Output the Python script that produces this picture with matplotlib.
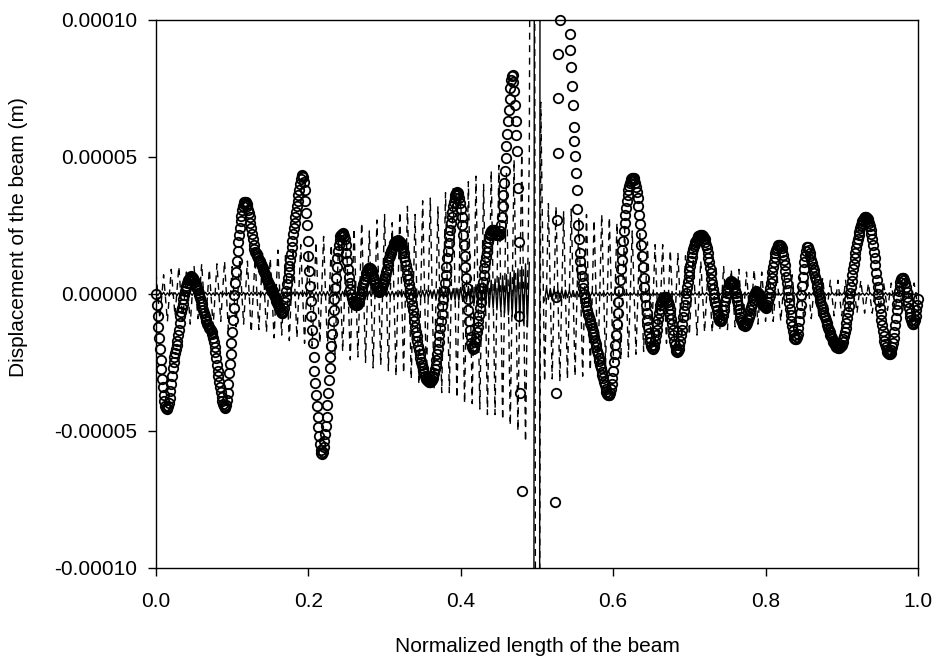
import matplotlib
matplotlib.use('Agg')
import matplotlib.pyplot as plt
import numpy as np
from matplotlib.ticker import FuncFormatter

plt.rcParams['font.family'] = ['Liberation Sans', 'DejaVu Sans']

nan = np.nan

# all displacements in units of 1e-5 m
# circles at x = 0, 0.002, ..., 1.0
circle_y_even = [
    0.0, -0.8, -1.6, -2.4, -3.1, -3.7, -4.1, -4.2, -4.1, -3.8,
    -3.3, -2.7, -2.3, -2.0, -1.7, -1.3, -0.8, -0.5, -0.2, 0.1,
    0.3, 0.5, 0.6, 0.65, 0.6, 0.5, 0.35, 0.2, 0.05, -0.15,
    -0.35, -0.6, -0.8, -1.0, -1.15, -1.25, -1.3, -1.45, -1.75, -2.1,
    -2.6, -3.0, -3.4, -3.75, -4.0, -4.15, -4.05, -3.6, -2.9, -2.2,
    -1.4, -0.5, 0.4, 1.2, 1.9, 2.4, 2.85, 3.2, 3.35, 3.35,
    3.2, 2.95, 2.6, 2.2, 1.8, 1.55, 1.45, 1.3, 1.2, 1.1,
    0.95, 0.8, 0.65, 0.5, 0.35, 0.25, 0.15, 0.05, -0.1, -0.25,
    -0.4, -0.5, -0.65, -0.7, -0.5, -0.1, 0.35, 0.8, 1.25, 1.7,
    2.2, 2.6, 3.0, 3.4, 3.8, 4.2, 4.35, 4.1, 3.4, 2.5,
    1.4, 0.3, -0.8, -1.8, -2.8, -3.7, -4.5, -5.2, -5.7, -5.85,
    -5.6, -5.1, -4.5, -3.6, -2.7, -1.9, -1.0, -0.2, 0.6, 1.3,
    1.8, 2.1, 2.2, 2.2, 2.0, 1.5, 0.9, 0.4, 0.0, -0.25,
    -0.35, -0.4, -0.4, -0.3, -0.1, 0.1, 0.35, 0.55, 0.75, 0.9,
    0.95, 0.9, 0.75, 0.55, 0.35, 0.2, 0.1, 0.1, 0.2, 0.35,
    0.55, 0.8, 1.05, 1.3, 1.5, 1.65, 1.8, 1.9, 1.95, 1.95,
    1.9, 1.8, 1.6, 1.35, 1.05, 0.7, 0.35, 0.0, -0.4, -0.8,
    -1.2, -1.55, -1.9, -2.2, -2.5, -2.7, -2.9, -3.05, -3.15, -3.2,
    -3.2, -3.15, -3.0, -2.75, -2.4, -2.0, -1.5, -1.0, -0.45, 0.1,
    0.7, 1.3, 1.85, 2.35, 2.8, 3.2, 3.5, 3.7, 3.7, 3.5,
    3.1, 2.5, 1.8, 1.0, 0.2, -0.6, -1.3, -1.8, -2.0, -1.9,
    -1.6, -1.2, -0.75, -0.3, 0.2, 0.7, 1.15, 1.55, 1.9, 2.15,
    2.3, 2.35, 2.3, 2.2, 2.15, 2.15, 2.3, 2.8, 3.6, 4.5,
    5.4, 6.3, 7.1, 7.8, 8.0, 7.4, 6.3, 5.2, 1.9, -3.6,
    -7.2, nan, nan, nan, nan, nan, nan, nan, nan, nan,
    nan, nan, nan, nan, nan, nan, nan, nan, nan, nan,
    nan, nan, -7.6, 2.7, nan, 10.0, nan, nan, nan, nan,
    nan, nan, 8.9, 7.6, 6.1, 5.05, 3.8, 2.5, 1.5, 0.9,
    0.4, 0.0, -0.3, -0.6, -0.85, -1.05, -1.25, -1.45, -1.7, -1.95,
    -2.2, -2.45, -2.7, -2.95, -3.2, -3.45, -3.65, -3.7, -3.6, -3.3,
    -2.8, -2.2, -1.5, -0.7, 0.1, 0.9, 1.6, 2.3, 2.9, 3.4,
    3.8, 4.05, 4.2, 4.25, 4.15, 3.9, 3.5, 2.9, 2.2, 1.4,
    0.6, -0.1, -0.7, -1.2, -1.6, -1.9, -2.0, -1.85, -1.5, -1.1,
    -0.7, -0.4, -0.25, -0.15, -0.1, -0.15, -0.3, -0.55, -0.9, -1.3,
    -1.7, -2.0, -2.1, -2.0, -1.7, -1.3, -0.85, -0.4, 0.05, 0.45,
    0.85, 1.2, 1.5, 1.75, 1.9, 2.0, 2.1, 2.15, 2.15, 2.1,
    2.0, 1.8, 1.5, 1.15, 0.75, 0.35, 0.0, -0.3, -0.6, -0.85,
    -1.0, -0.95, -0.75, -0.45, -0.1, 0.15, 0.35, 0.45, 0.45, 0.35,
    0.15, -0.1, -0.4, -0.7, -0.95, -1.1, -1.15, -1.15, -1.05, -0.85,
    -0.6, -0.35, -0.1, 0.05, 0.1, 0.05, -0.05, -0.2, -0.35, -0.45,
    -0.5, -0.4, -0.15, 0.2, 0.6, 1.0, 1.35, 1.6, 1.75, 1.8,
    1.75, 1.55, 1.25, 0.85, 0.4, -0.1, -0.55, -1.0, -1.35, -1.6,
    -1.65, -1.45, -1.0, -0.4, 0.3, 0.9, 1.4, 1.7, 1.7, 1.5,
    1.25, 1.0, 0.75, 0.5, 0.25, 0.0, -0.25, -0.45, -0.65, -0.85,
    -1.05, -1.25, -1.4, -1.55, -1.7, -1.8, -1.9, -1.95, -1.95, -1.95,
    -1.85, -1.65, -1.4, -1.05, -0.65, -0.2, 0.25, 0.7, 1.1, 1.5,
    1.85, 2.15, 2.4, 2.6, 2.7, 2.8, 2.8, 2.75, 2.6, 2.35,
    2.0, 1.55, 1.05, 0.5, 0.0, -0.5, -0.95, -1.35, -1.7, -1.95,
    -2.1, -2.2, -2.15, -1.95, -1.6, -1.15, -0.6, -0.1, 0.3, 0.55,
    0.6, 0.5, 0.25, -0.1, -0.5, -0.85, -1.05, -1.1, -0.95, -0.6,
    -0.2,
]

# circles at x = 0.001, 0.003, ..., 0.999
circle_y_odd = [
    -0.4, -1.2, -2.0, -2.75, -3.4, -3.9, -4.17, -4.17, -3.97, -3.55,
    -3.0, -2.5, -2.15, -1.85, -1.5, -1.05, -0.65, -0.35, -0.05, 0.2,
    0.4, 0.56, 0.63, 0.63, 0.56, 0.43, 0.28, 0.13, -0.05, -0.25,
    -0.48, -0.7, -0.9, -1.08, -1.2, -1.28, -1.37, -1.6, -1.92, -2.35,
    -2.8, -3.2, -3.58, -3.9, -4.1, -4.13, -3.87, -3.27, -2.55, -1.8,
    -0.95, -0.05, 0.8, 1.57, 2.17, 2.65, 3.05, 3.3, 3.37, 3.3,
    3.08, 2.8, 2.4, 2.0, 1.65, 1.5, 1.37, 1.25, 1.15, 1.03,
    0.87, 0.72, 0.57, 0.42, 0.3, 0.2, 0.1, -0.02, -0.17, -0.32,
    -0.45, -0.58, -0.7, -0.62, -0.3, 0.12, 0.57, 1.02, 1.47, 1.95,
    2.4, 2.8, 3.2, 3.6, 4.0, 4.3, 4.28, 3.8, 2.97, 1.95,
    0.85, -0.25, -1.3, -2.3, -3.25, -4.1, -4.85, -5.47, -5.82, -5.77,
    -5.37, -4.82, -4.05, -3.15, -2.3, -1.45, -0.6, 0.2, 0.97, 1.57,
    1.97, 2.17, 2.22, 2.12, 1.77, 1.2, 0.63, 0.18, -0.14, -0.31,
    -0.38, -0.41, -0.36, -0.2, 0.0, 0.22, 0.45, 0.65, 0.83, 0.94,
    0.94, 0.83, 0.65, 0.45, 0.27, 0.14, 0.09, 0.14, 0.27, 0.45,
    0.67, 0.92, 1.18, 1.4, 1.58, 1.73, 1.86, 1.93, 1.96, 1.93,
    1.86, 1.71, 1.48, 1.2, 0.88, 0.53, 0.17, -0.2, -0.6, -1.0,
    -1.38, -1.73, -2.05, -2.35, -2.6, -2.8, -2.98, -3.1, -3.18, -3.21,
    -3.18, -3.08, -2.88, -2.58, -2.2, -1.75, -1.25, -0.72, -0.17, 0.4,
    1.0, 1.58, 2.1, 2.58, 3.0, 3.37, 3.62, 3.73, 3.62, 3.32,
    2.82, 2.15, 1.4, 0.6, -0.2, -0.97, -1.57, -1.93, -1.98, -1.77,
    -1.4, -0.98, -0.52, -0.05, 0.45, 0.93, 1.35, 1.73, 2.03, 2.24,
    2.33, 2.33, 2.25, 2.17, 2.14, 2.2, 2.5, 3.2, 4.05, 4.95,
    5.85, 6.72, 7.5, 7.95, 7.75, 6.9, 5.8, 3.85, -0.8, nan,
    nan, nan, nan, nan, nan, nan, nan, nan, nan, nan,
    nan, nan, nan, nan, nan, nan, nan, nan, nan, nan,
    nan, nan, -3.6, 5.15, nan, nan, nan, nan, nan, nan,
    nan, 9.5, 8.3, 6.9, 5.6, 4.4, 3.1, 2.0, 1.2, 0.65,
    0.2, -0.15, -0.45, -0.72, -0.95, -1.15, -1.35, -1.58, -1.83, -2.08,
    -2.33, -2.58, -2.83, -3.08, -3.33, -3.56, -3.7, -3.67, -3.47, -3.07,
    -2.5, -1.85, -1.1, -0.3, 0.5, 1.25, 1.95, 2.6, 3.15, 3.6,
    3.94, 4.14, 4.24, 4.22, 4.04, 3.72, 3.22, 2.56, 1.8, 1.0,
    0.24, -0.4, -0.96, -1.41, -1.77, -1.97, -1.95, -1.7, -1.3, -0.9,
    -0.54, -0.31, -0.19, -0.12, -0.11, -0.21, -0.42, -0.72, -1.1, -1.5,
    -1.87, -2.07, -2.07, -1.87, -1.51, -1.08, -0.62, -0.17, 0.26, 0.65,
    1.03, 1.36, 1.63, 1.83, 1.95, 2.05, 2.13, 2.16, 2.13, 2.06,
    1.91, 1.66, 1.33, 0.95, 0.55, 0.17, -0.15, -0.45, -0.73, -0.94,
    -0.99, -0.86, -0.6, -0.27, 0.03, 0.26, 0.41, 0.46, 0.41, 0.26,
    0.03, -0.25, -0.55, -0.83, -1.03, -1.13, -1.16, -1.11, -0.96, -0.73,
    -0.47, -0.22, -0.02, 0.08, 0.08, 0.0, -0.12, -0.28, -0.41, -0.48,
    -0.47, -0.29, 0.02, 0.4, 0.8, 1.18, 1.49, 1.68, 1.78, 1.79,
    1.66, 1.41, 1.06, 0.63, 0.15, -0.33, -0.78, -1.18, -1.49, -1.64,
    -1.57, -1.24, -0.7, -0.05, 0.61, 1.17, 1.58, 1.73, 1.62, 1.38,
    1.12, 0.87, 0.62, 0.37, 0.12, -0.13, -0.35, -0.55, -0.75, -0.95,
    -1.15, -1.33, -1.48, -1.62, -1.76, -1.86, -1.93, -1.96, -1.96, -1.91,
    -1.76, -1.53, -1.23, -0.86, -0.43, 0.03, 0.48, 0.9, 1.3, 1.68,
    2.0, 2.28, 2.5, 2.66, 2.76, 2.81, 2.78, 2.68, 2.48, 2.18,
    1.78, 1.3, 0.78, 0.25, -0.25, -0.73, -1.15, -1.53, -1.83, -2.03,
    -2.16, -2.19, -2.06, -1.79, -1.38, -0.88, -0.35, 0.11, 0.44, 0.59,
    0.57, 0.39, 0.08, -0.3, -0.68, -0.96, -1.09, -1.04, -0.79, -0.4,
]

# stray circles next to the mid-span singularity
circle_x_mid = [0.5255, 0.5272, 0.5275]
circle_y_mid = [-0.1, 7.15, 8.76]

# dashed series at x = 0, 0.005, ..., 1.0
dashed_y = [
    0.8, -0.9, 0.7, -1.0, 0.9, -0.8, 1.0, -1.0, 0.8, -1.1,
    1.0, -0.9, 1.1, -1.1, 0.9, -1.2, 1.1, -1.0, 1.2, -1.3,
    1.0, -1.2, 1.3, -1.1, 1.2, -1.4, 1.3, -1.3, 1.5, -1.4,
    1.3, -1.6, 1.6, -1.5, 1.4, -1.7, 1.7, -1.6, 1.8, -1.8,
    1.6, -1.9, 1.9, -1.8, 2.1, -2.0, 1.8, -2.2, 2.2, -2.1,
    2.0, -2.4, 2.4, -2.3, 2.6, -2.5, 2.3, -2.7, 2.7, -2.6,
    2.9, -2.8, 2.6, -3.0, 3.0, -2.9, 3.2, -3.1, 2.9, -3.3,
    3.4, -3.2, 3.5, -3.5, 3.2, -3.6, 3.7, -3.6, 3.9, -3.8,
    3.6, -4.0, 4.1, -4.0, 4.3, -4.2, 4.0, -4.4, 4.5, -4.4,
    4.7, -4.6, 4.4, -4.8, 4.9, -5.0, 5.1, -5.4, 5.2, 60.0,
    -60.0, 7.0, -3.2, 3.3, -3.1, 3.2, -3.2, 3.0, -3.1, 3.1,
    -3.0, 2.8, -3.0, 2.9, -2.8, 2.7, -2.7, 2.9, -2.6, 2.8,
    -2.5, 2.6, -2.4, 2.4, -2.3, 2.3, -2.2, 2.2, -2.1, 1.9,
    -2.0, 1.8, -1.9, 1.8, -1.8, 1.6, -1.7, 1.5, -1.6, 1.4,
    -1.5, 1.3, -1.5, 1.2, -1.4, 1.1, -1.4, 1.0, -1.3, 1.0,
    -1.3, 0.9, -1.2, 0.9, -1.2, 0.8, -1.1, 0.9, -1.1, 0.8,
    -1.0, 0.8, -1.0, 0.7, -1.0, 0.7, -0.9, 0.7, -0.9, 0.6,
    -0.9, 0.6, -0.9, 0.6, -0.8, 0.6, -0.8, 0.5, -0.8, 0.5,
    -0.8, 0.5, -0.7, 0.5, -0.7, 0.5, -0.7, 0.4, -0.7, 0.4,
    -0.6, 0.4, -0.6, 0.4, -0.6, 0.4, -0.6, 0.4, -0.5, 0.4,
    -0.5,
]

# solid series at x = 0, 0.0025, ..., 1.0
solid_y = [
    0.04, -0.05, 0.05, -0.04, 0.06, -0.05, 0.04, -0.05,
    0.05, -0.04, 0.05, -0.06, 0.04, -0.05, 0.05, -0.04,
    0.06, -0.05, 0.04, -0.05, 0.05, -0.06, 0.05, -0.04,
    0.05, -0.05, 0.06, -0.04, 0.05, -0.05, 0.04, -0.06,
    0.05, -0.05, 0.06, -0.05, 0.04, -0.06, 0.05, -0.05,
    0.06, -0.05, 0.05, -0.06, 0.05, -0.05, 0.06, -0.05,
    0.05, -0.06, 0.06, -0.05, 0.06, -0.06, 0.05, -0.06,
    0.06, -0.06, 0.07, -0.05, 0.06, -0.06, 0.07, -0.06,
    0.06, -0.07, 0.06, -0.07, 0.07, -0.06, 0.07, -0.07,
    0.07, -0.07, 0.08, -0.06, 0.07, -0.08, 0.07, -0.07,
    0.08, -0.07, 0.08, -0.08, 0.07, -0.08, 0.08, -0.08,
    0.08, -0.08, 0.09, -0.08, 0.08, -0.09, 0.08, -0.09,
    0.09, -0.08, 0.09, -0.09, 0.09, -0.09, 0.08, -0.09,
    0.09, -0.09, 0.1, -0.09, 0.09, -0.1, 0.09, -0.1,
    0.1, -0.09, 0.1, -0.1, 0.09, -0.1, 0.1, -0.1,
    0.08, -0.1, 0.09, -0.08, 0.1, -0.09, 0.08, -0.1,
    0.1, -0.11, 0.09, -0.12, 0.11, -0.1, 0.12, -0.11,
    0.12, -0.13, 0.11, -0.14, 0.13, -0.12, 0.14, -0.13,
    0.14, -0.16, 0.15, -0.17, 0.16, -0.15, 0.18, -0.17,
    0.18, -0.2, 0.19, -0.21, 0.2, -0.22, 0.21, -0.23,
    0.24, -0.25, 0.26, -0.28, 0.27, -0.3, 0.31, -0.33,
    0.34, -0.36, 0.37, -0.4, 0.41, -0.44, 0.45, -0.48,
    0.5, -0.52, 0.55, -0.58, 0.6, -0.63, 0.66, -0.7,
    0.7, -0.76, 0.78, -0.82, 0.85, -0.9, 0.92, -0.98,
    1.0, -1.08, 1.1, -1.2, 1.15, nan, -60.0, 60.0,
    nan, -60.0, 60.0, nan, -0.25, 0.22, -0.2, 0.2,
    -0.18, 0.18, -0.17, 0.16, -0.16, 0.15, -0.15, 0.14,
    -0.13, 0.13, -0.12, 0.12, -0.11, 0.1, -0.1, 0.1,
    -0.09, 0.09, -0.08, 0.08, -0.08, 0.07, -0.07, 0.07,
    -0.06, 0.07, -0.06, 0.06, -0.06, 0.06, -0.05, 0.06,
    -0.05, 0.06, -0.05, 0.05, -0.06, 0.05, -0.05, 0.05,
    -0.05, 0.05, -0.04, 0.05, -0.05, 0.04, -0.05, 0.05,
    -0.04, 0.05, -0.05, 0.04, -0.05, 0.05, -0.04, 0.05,
    -0.05, 0.04, -0.05, 0.05, -0.04, 0.05, -0.05, 0.04,
    -0.04, 0.05, -0.05, 0.04, -0.05, 0.04, -0.04, 0.05,
    -0.05, 0.04, -0.04, 0.05, -0.04, 0.05, -0.05, 0.04,
    -0.04, 0.05, -0.04, 0.04, -0.05, 0.04, -0.04, 0.05,
    -0.04, 0.04, -0.05, 0.04, -0.04, 0.05, -0.04, 0.04,
    -0.05, 0.04, -0.04, 0.04, -0.05, 0.04, -0.04, 0.05,
    -0.04, 0.04, -0.04, 0.05, -0.04, 0.04, -0.05, 0.04,
    -0.04, 0.05, -0.04, 0.04, -0.04, 0.05, -0.04, 0.04,
    -0.05, 0.04, -0.04, 0.04, -0.05, 0.04, -0.04, 0.05,
    -0.04, 0.04, -0.05, 0.04, -0.04, 0.04, -0.05, 0.04,
    -0.04, 0.05, -0.04, 0.04, -0.04, 0.05, -0.04, 0.04,
    -0.05, 0.04, -0.04, 0.05, -0.04, 0.04, -0.04, 0.05,
    -0.04, 0.04, -0.05, 0.04, -0.04, 0.04, -0.05, 0.04,
    -0.04, 0.05, -0.04, 0.04, -0.05, 0.04, -0.04, 0.04,
    -0.05, 0.04, -0.04, 0.05, -0.04, 0.04, -0.04, 0.05,
    -0.04, 0.04, -0.05, 0.04, -0.04, 0.05, -0.04, 0.04,
    -0.04, 0.05, -0.04, 0.04, -0.05, 0.04, -0.04, 0.04,
    0.0,
]

x_ticks = [0.0, 0.2, 0.4, 0.6, 0.8, 1.0]
y_ticks = [-0.0001, -0.00005, 0.0, 0.00005, 0.0001]

unit = 1e-5

# merge the two circle grids into one 0.001-step series
circle_y = np.empty(len(circle_y_even) + len(circle_y_odd))
circle_y[0::2] = circle_y_even
circle_y[1::2] = circle_y_odd
circle_y = circle_y * unit
circle_x = np.linspace(0, 1, len(circle_y))
circle_y_mid = np.array(circle_y_mid, dtype=float) * unit
dashed_y = np.array(dashed_y, dtype=float) * unit
dashed_x = np.linspace(0, 1, len(dashed_y))
solid_y = np.array(solid_y, dtype=float) * unit
solid_x = np.linspace(0, 1, len(solid_y))

fig = plt.figure(figsize=(9.34, 6.57), dpi=100, facecolor='white')
ax = fig.add_axes([0.167, 0.1355, 0.8158, 0.8341])

ax.plot(dashed_x, dashed_y, color='black', lw=1.0,
        linestyle=(0, (5, 4)))
ax.plot(solid_x, solid_y, color='black', lw=1.0)
marker_style = dict(ls='none', marker='o', ms=6.8, mfc='none', mec='black',
                    mew=1.3, clip_on=False)
ax.plot(circle_x, circle_y, **marker_style)
ax.plot(circle_x_mid, circle_y_mid, **marker_style)

ax.set_xlim(0, 1)
ax.set_ylim(-0.0001, 0.0001)
ax.set_xticks(x_ticks)
ax.set_yticks(y_ticks)
ax.xaxis.set_major_formatter(FuncFormatter(lambda v, p: '%.1f' % v))
ax.yaxis.set_major_formatter(FuncFormatter(lambda v, p: '%.5f' % v))

ax.tick_params(direction='out', length=6, width=1.0, labelsize=15,
               top=False, right=False)
ax.tick_params(axis='x', pad=11)
ax.tick_params(axis='y', pad=7.5)
for s in ax.spines.values():
    s.set_linewidth(1.0)

fig.text(0.575, 0.0076, 'Normalized length of the beam', fontsize=15,
         ha='center', va='baseline')
fig.text(0.0203, 0.6397, 'Displacement of the beam (m)', fontsize=15,
         rotation=90, ha='center', va='center')

fig.savefig('out.png', dpi=100, facecolor='white')
